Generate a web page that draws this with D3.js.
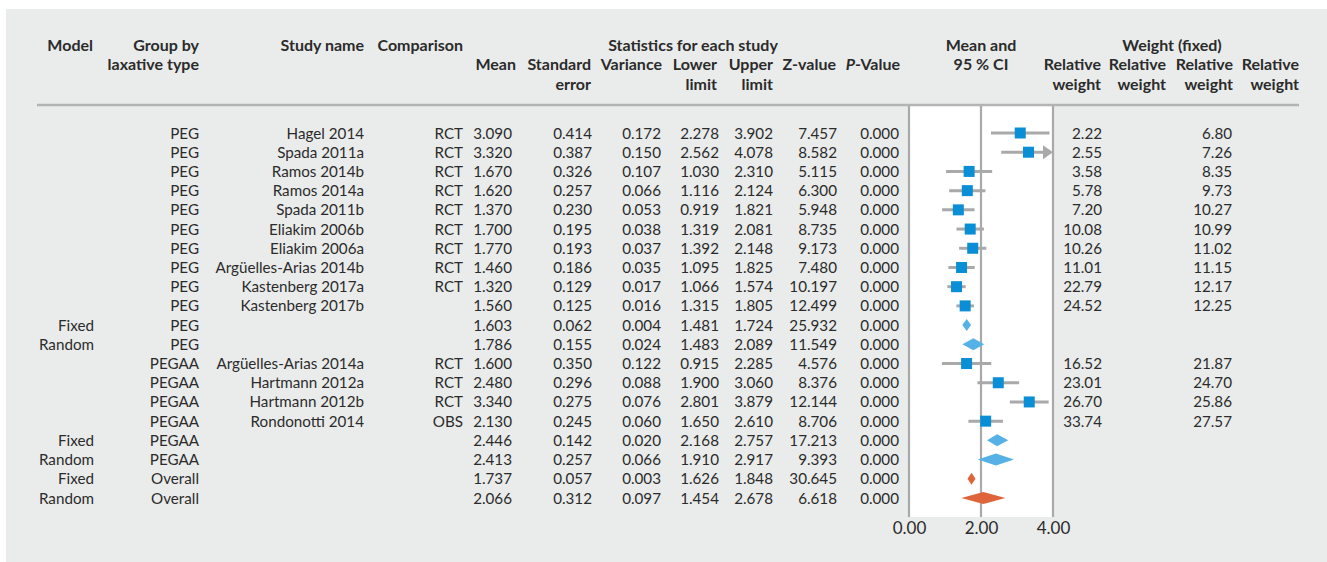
<!DOCTYPE html>
<meta charset="utf-8">
<style>
body { margin: 0; background: #fff; }
svg text { font-family: Lato, "Noto Sans", sans-serif; fill: #2b2b2b; }
.hd { font-weight: bold; font-size: 16px; }
.cell { font-size: 15.2px; }
</style>
<body>
<script src="https://d3js.org/d3.v7.min.js"></script>
<script>

// table rows, top to bottom
var models = ["", "", "", "", "", "", "", "", "", "", "Fixed", "Random", "", "", "", "", "Fixed", "Random", "Fixed", "Random"];
var groups = ["PEG", "PEG", "PEG", "PEG", "PEG", "PEG", "PEG", "PEG", "PEG", "PEG", "PEG", "PEG",
              "PEGAA", "PEGAA", "PEGAA", "PEGAA", "PEGAA", "PEGAA", "Overall", "Overall"];
var studies = ["Hagel 2014", "Spada 2011a", "Ramos 2014b", "Ramos 2014a", "Spada 2011b", "Eliakim 2006b",
               "Eliakim 2006a", "Argüelles-Arias 2014b", "Kastenberg 2017a", "Kastenberg 2017b", "", "",
               "Argüelles-Arias 2014a", "Hartmann 2012a", "Hartmann 2012b", "Rondonotti 2014", "", "", "", ""];
var comparisons = ["RCT", "RCT", "RCT", "RCT", "RCT", "RCT", "RCT", "RCT", "RCT", "", "", "",
                   "RCT", "RCT", "RCT", "OBS", "", "", "", ""];
var means = [3.090, 3.320, 1.670, 1.620, 1.370, 1.700, 1.770, 1.460, 1.320, 1.560, 1.603, 1.786,
             1.600, 2.480, 3.340, 2.130, 2.446, 2.413, 1.737, 2.066];
var stdErrs = [0.414, 0.387, 0.326, 0.257, 0.230, 0.195, 0.193, 0.186, 0.129, 0.125, 0.062, 0.155,
               0.350, 0.296, 0.275, 0.245, 0.142, 0.257, 0.057, 0.312];
var variances = [0.172, 0.150, 0.107, 0.066, 0.053, 0.038, 0.037, 0.035, 0.017, 0.016, 0.004, 0.024,
                 0.122, 0.088, 0.076, 0.060, 0.020, 0.066, 0.003, 0.097];
var lowers = [2.278, 2.562, 1.030, 1.116, 0.919, 1.319, 1.392, 1.095, 1.066, 1.315, 1.481, 1.483,
              0.915, 1.900, 2.801, 1.650, 2.168, 1.910, 1.626, 1.454];
var uppers = [3.902, 4.078, 2.310, 2.124, 1.821, 2.081, 2.148, 1.825, 1.574, 1.805, 1.724, 2.089,
              2.285, 3.060, 3.879, 2.610, 2.757, 2.917, 1.848, 2.678];
var zValues = [7.457, 8.582, 5.115, 6.300, 5.948, 8.735, 9.173, 7.480, 10.197, 12.499, 25.932, 11.549,
               4.576, 8.376, 12.144, 8.706, 17.213, 9.393, 30.645, 6.618];
var pValues = [0, 0, 0, 0, 0, 0, 0, 0, 0, 0, 0, 0, 0, 0, 0, 0, 0, 0, 0, 0];
var weightsA = [2.22, 2.55, 3.58, 5.78, 7.20, 10.08, 10.26, 11.01, 22.79, 24.52, null, null,
                16.52, 23.01, 26.70, 33.74, null, null, null, null];
var weightsB = [6.80, 7.26, 8.35, 9.73, 10.27, 10.99, 11.02, 11.15, 12.17, 12.25, null, null,
                21.87, 24.70, 25.86, 27.57, null, null, null, null];
var axisTicks = [0, 2, 4];

var width = 1327, height = 562;

var svg = d3.select("body").append("svg")
    .attr("width", width)
    .attr("height", height);

svg.append("rect")
    .attr("x", 6).attr("y", 9)
    .attr("width", width - 6).attr("height", height - 9)
    .attr("fill", "#eaebeb");

var rows = d3.range(means.length);

var y = d3.scalePoint()
    .domain(rows)
    .range([133, 498]);

var x = d3.scaleLinear()
    .domain([0, 4])
    .range([909, 1053]);

// plot panel
svg.append("rect")
    .attr("x", x(0)).attr("y", 106)
    .attr("width", x(4) - x(0)).attr("height", 411)
    .attr("fill", "#fff");

svg.selectAll(".vline")
    .data(axisTicks)
  .enter().append("line")
    .attr("x1", function(d) { return x(d); })
    .attr("x2", function(d) { return x(d); })
    .attr("y1", 105).attr("y2", 517)
    .attr("stroke", "#a9a9a9")
    .attr("stroke-width", 2.2);

svg.append("line")
    .attr("x1", 37).attr("x2", 1299)
    .attr("y1", 105).attr("y2", 105)
    .attr("stroke", "#b3b3b3")
    .attr("stroke-width", 2.5);

// headers
function hd(txt, xx, yy, anchor) {
  var t = svg.append("text")
      .attr("class", "hd")
      .attr("x", xx).attr("y", yy)
      .attr("text-anchor", anchor || "end");
  if (txt.indexOf("P-") === 0) {
    t.append("tspan").style("font-style", "italic").text("P");
    t.append("tspan").text(txt.slice(1));
  } else t.text(txt);
}
var h1 = 51, h2 = 70, h3 = 90;
hd("Model", 93, h1);
hd("Group by", 199, h1);
hd("laxative type", 199, h2);
hd("Study name", 364, h1);
hd("Comparison", 463, h1);
hd("Statistics for each study", 693, h1, "middle");
hd("Mean", 516, h2);
hd("Standard", 591, h2);
hd("error", 591, h3);
hd("Variance", 662, h2);
hd("Lower", 717, h2);
hd("limit", 717, h3);
hd("Upper", 773, h2);
hd("limit", 773, h3);
hd("Z-value", 836, h2);
hd("P-Value", 900, h2);
hd("Mean and", 981, h1, "middle");
hd("95 % CI", 981, h2, "middle");
hd("Weight (fixed)", 1172, h1, "middle");
[1101, 1166, 1233, 1299].forEach(function(r) {
  hd("Relative", r, h2);
  hd("weight", r, h3);
});

// table cells
var cols = [
  {v: models, x: 94},
  {v: groups, x: 199},
  {v: studies, x: 364},
  {v: comparisons, x: 463},
  {v: means.map(d3.format(".3f")), x: 512},
  {v: stdErrs.map(d3.format(".3f")), x: 592},
  {v: variances.map(d3.format(".3f")), x: 661},
  {v: lowers.map(d3.format(".3f")), x: 719},
  {v: uppers.map(d3.format(".3f")), x: 773},
  {v: zValues.map(d3.format(".3f")), x: 837},
  {v: pValues.map(d3.format(".3f")), x: 899},
  {v: weightsA.map(function(d) { return d == null ? "" : d.toFixed(2); }), x: 1102},
  {v: weightsB.map(function(d) { return d == null ? "" : d.toFixed(2); }), x: 1232}
];

cols.forEach(function(c) {
  svg.append("g").selectAll("text")
      .data(rows)
    .enter().append("text")
      .attr("class", "cell")
      .attr("x", c.x)
      .attr("y", function(i) { return y(i) + 5.5; })
      .attr("text-anchor", "end")
      .text(function(i) { return c.v[i]; });
});

// forest marks
var isStudy = function(i) { return studies[i] !== ""; };
var studyRows = rows.filter(isStudy);
var summaryRows = rows.filter(function(i) { return !isStudy(i); });

svg.append("g").selectAll("line")
    .data(studyRows)
  .enter().append("line")
    .attr("x1", function(i) { return x(Math.max(0, lowers[i])); })
    .attr("x2", function(i) { return uppers[i] > 4 ? x(4) - 8 : x(uppers[i]); })
    .attr("y1", function(i) { return y(i); })
    .attr("y2", function(i) { return y(i); })
    .attr("stroke", "#a9a9a9")
    .attr("stroke-width", 3);

svg.append("g").selectAll("path")
    .data(studyRows.filter(function(i) { return uppers[i] > 4; }))
  .enter().append("path")
    .attr("d", function(i) {
      var xe = x(4), yc = y(i);
      return "M" + (xe - 10) + "," + (yc - 7) + "L" + xe + "," + yc + "L" + (xe - 10) + "," + (yc + 7) + "Z";
    })
    .attr("fill", "#a9a9a9");

svg.append("g").selectAll("rect")
    .data(studyRows)
  .enter().append("rect")
    .attr("x", function(i) { return x(means[i]) - 5.5; })
    .attr("y", function(i) { return y(i) - 5.5; })
    .attr("width", 11)
    .attr("height", 11)
    .attr("fill", "#0a8fd6");

svg.append("g").selectAll("path")
    .data(summaryRows)
  .enter().append("path")
    .attr("d", function(i) {
      var yc = y(i), h = 6;
      return "M" + x(lowers[i]) + "," + yc + "L" + x(means[i]) + "," + (yc - h) +
             "L" + x(uppers[i]) + "," + yc + "L" + x(means[i]) + "," + (yc + h) + "Z";
    })
    .attr("fill", function(i) { return groups[i] === "Overall" ? "#e0643a" : "#56b2e6"; });

// axis
var xAxis = d3.axisBottom(x)
    .tickValues(axisTicks)
    .tickFormat(d3.format(".2f"))
    .tickSize(0)
    .tickPadding(6);

svg.append("g")
    .attr("transform", "translate(0,516)")
    .call(xAxis)
    .call(function(g) { g.select(".domain").remove(); })
    .selectAll("text")
    .attr("fill", "#2b2b2b")
    .style("font-family", "Lato, sans-serif")
    .style("font-size", "17px");

</script>
